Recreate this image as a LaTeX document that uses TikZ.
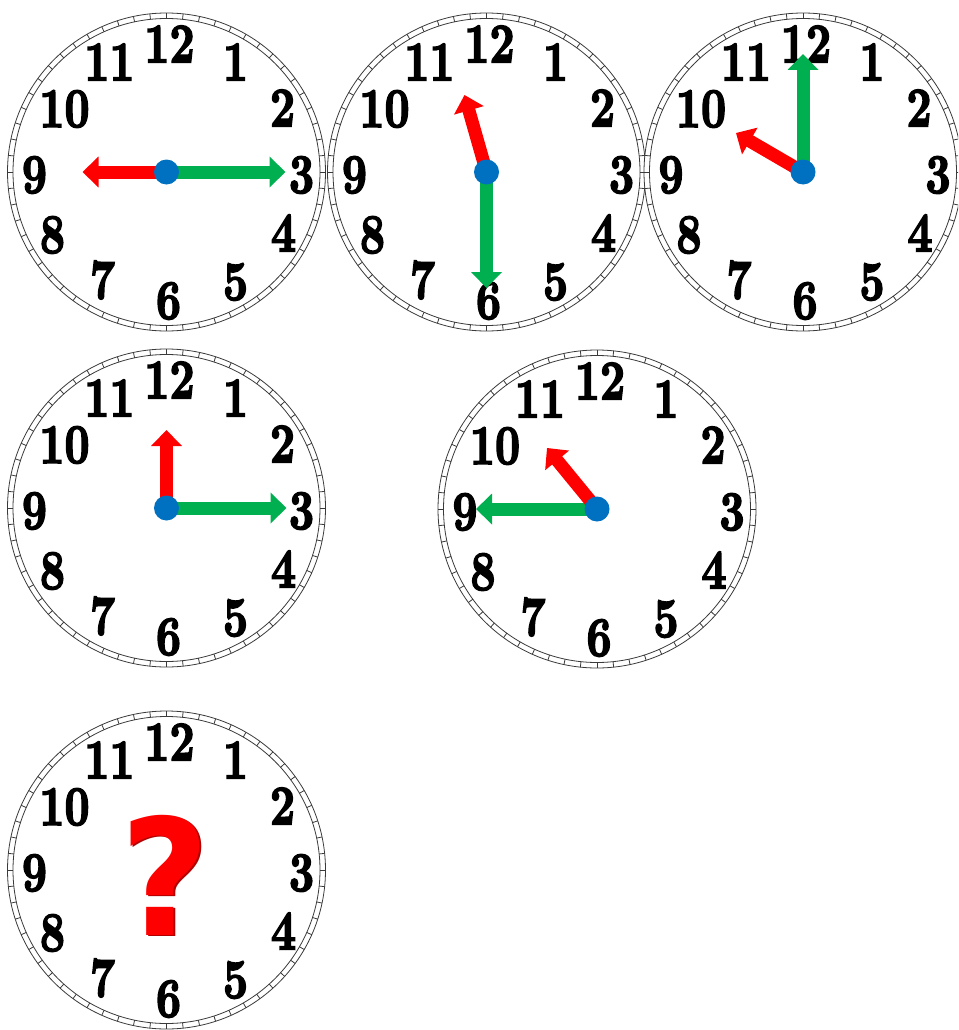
\documentclass[tikz,border=0pt]{standalone}
\usepackage{fontspec}
\newfontfamily\qfont{DejaVu Sans}
\newfontfamily\numfont[FakeBold=3]{lmroman10-bold.otf}
\usetikzlibrary{arrows.meta}
\definecolor{handred}{HTML}{FF0000}
\definecolor{handgreen}{HTML}{00B050}
\definecolor{hubblue}{HTML}{0070C0}
\definecolor{bandgray}{HTML}{3A3A3A}
\definecolor{qdark}{HTML}{B00000}
\tikzset{
  num/.style={font=\numfont\fontsize{56}{56}\selectfont, inner sep=0pt, xscale=0.78, text=black},
  bandline/.style={draw=bandgray, line width=0.8pt},
  hourhand/.style={draw=handred, line width=13pt, -{Triangle[width=30pt,length=16pt]}},
  minutehand/.style={draw=handgreen, line width=13pt, -{Triangle[width=30pt,length=16pt]}},
  hub/.style={circle, fill=hubblue, minimum size=25pt, inner sep=0pt},
  qstyle/.style={font=\qfont\bfseries\fontsize{162}{162}\selectfont, inner sep=0pt, xscale=0.95, text height=118pt, text depth=0pt},
  pics/clockface/.style={code={
    \fill[white] (0,0) circle[radius=159pt];
    \draw[bandline] (0,0) circle[radius=159pt];
    \draw[bandline] (0,0) circle[radius=153.5pt];
    \foreach \a in {0,6,...,354}{\draw[bandline] (\a:153.5pt) -- (\a:159pt);}
    \node[num] (-n12) at (3,-128) {12};
    \node[num] (-n1) at (69,-110) {1};
    \node[num] (-n2) at (116,-64) {2};
    \node[num] (-n3) at (135,3) {3};
    \node[num] (-n4) at (117,61) {4};
    \node[num] (-n5) at (69,110) {5};
    \node[num] (-n6) at (2,129) {6};
    \node[num] (-n7) at (-64,108) {7};
    \node[num] (-n8) at (-114,63) {8};
    \node[num] (-n9) at (-132,3) {9};
    \node[num] (-n10) at (-102,-63) {10};
    \node[num] (-n11) at (-57,-110) {11};
  }}
}
\begin{document}
\begin{tikzpicture}[x=1pt,y=-1pt]
\useasboundingbox (0,0) rectangle (958,1030);
\fill[white] (0,0) rectangle (958,1030);
\begin{scope}
\clip (0,0) rectangle (958,1030);
% centres
\coordinate (c1) at (166.5,172);
\coordinate (c2) at (486.5,172);
\coordinate (c3) at (803,172);
\coordinate (c4) at (166.5,508);
\coordinate (c5) at (597,509);
\coordinate (c6) at (166.5,870);
% faces
\pic (f1) at (c1) {clockface};
\pic (f2) at (c2) {clockface};
\pic (f3) at (c3) {clockface};
\pic (f4) at (c4) {clockface};
\pic (f5) at (c5) {clockface};
\pic (f6) at (c6) {clockface};
\end{scope}
% hand tips
\coordinate (c1h) at ([shift={(-84,0)}]c1);
\coordinate (c1m) at ([shift={(119,0)}]c1);
\coordinate (c2h) at ([shift={(-22,-77)}]c2);
\coordinate (c2m) at ([shift={(0,116)}]c2);
\coordinate (c3h) at ([shift={(-67,-39)}]c3);
\coordinate (c3m) at ([shift={(0,-118)}]c3);
\coordinate (c4h) at ([shift={(0,-78)}]c4);
\coordinate (c4m) at ([shift={(120,0)}]c4);
\coordinate (c5h) at ([shift={(-50,-61)}]c5);
\coordinate (c5m) at ([shift={(-121,0)}]c5);
% hands
\foreach \i in {1,...,5}{
  \draw[minutehand] (c\i) -- (c\i m);
  \draw[hourhand] (c\i) -- (c\i h);
  \node[hub] (hub\i) at (c\i) {};
}
% question mark
\node[qstyle, text=qdark] (qshadow) at ([shift={(1.8,1.8)}]165,876) {?};
\node[qstyle, text=handred] (qmark) at (165,876) {?};
\end{tikzpicture}
\end{document}
